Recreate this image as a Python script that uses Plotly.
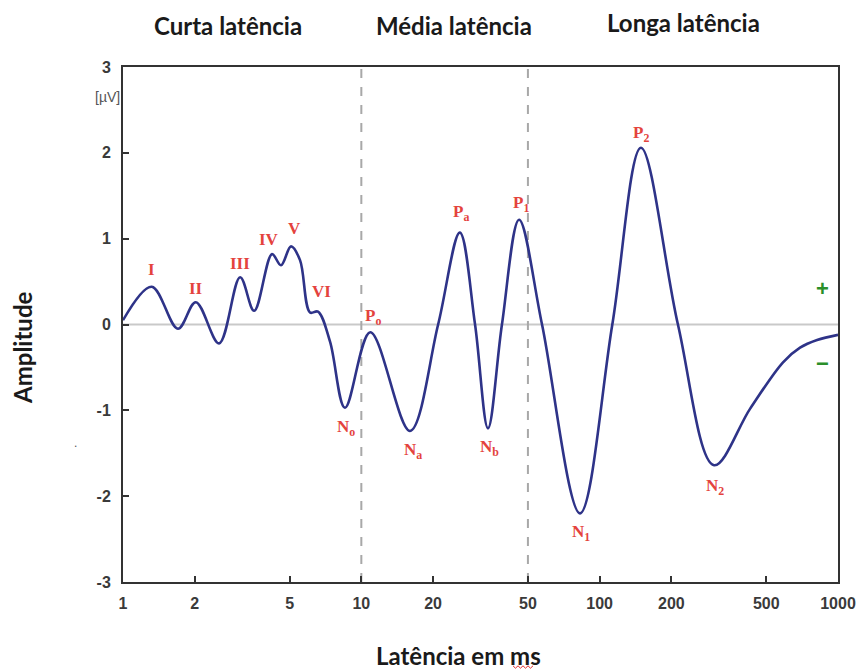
import numpy as np
import plotly.graph_objects as go

# Auditory evoked potential waveform: latency (ms) vs amplitude (µV)
latency_ms = [1.0, 1.32, 1.70, 2.02, 2.53, 3.10, 3.55, 4.22, 4.6, 5.07, 5.53, 6.09,
              6.58, 7.39, 8.54, 10.9, 16.0, 21.0, 25.9, 30.0, 34.0, 38.9, 45.9, 57.3,
              82.7, 113.0, 149.0, 213.0, 302.0, 428.0, 588.0, 693.0, 817.0, 1000.0]
amplitude_uv = [0.05, 0.44, -0.05, 0.26, -0.22, 0.55, 0.16, 0.82, 0.69, 0.91, 0.75, 0.14,
                0.15, -0.20, -0.97, -0.09, -1.24, 0.0, 1.07, 0.0, -1.21, 0.0, 1.22, 0.0,
                -2.20, 0.0, 2.06, 0.0, -1.64, -0.98, -0.44, -0.27, -0.18, -0.12]

# Named components: (label, latency, amplitude, xshift, yshift)
components = [
    ("I", 1.32, 0.44, 0, 17),
    ("II", 2.02, 0.26, 0, 14),
    ("III", 3.10, 0.55, 0, 14),
    ("IV", 4.22, 0.82, -3, 15),
    ("V", 5.07, 0.91, 3, 18),
    ("VI", 6.58, 0.15, 3, 20),
    ("P<sub>o</sub>", 10.9, -0.09, 3, 15),
    ("N<sub>o</sub>", 8.54, -0.97, 1, -20),
    ("N<sub>a</sub>", 16.0, -1.24, 3, -20),
    ("P<sub>a</sub>", 25.9, 1.07, 1, 20),
    ("N<sub>b</sub>", 34.0, -1.21, 1, -20),
    ("P<sub>1</sub>", 45.9, 1.22, 2, 16),
    ("N<sub>1</sub>", 82.7, -2.20, 1, -20),
    ("P<sub>2</sub>", 149.0, 2.06, 0, 14),
    ("N<sub>2</sub>", 302.0, -1.64, 1, -22),
]

section_titles = ["Curta latência", "Média latência", "Longa latência"]
section_bounds_ms = [10, 50]
x_ticks = [1, 2, 5, 10, 20, 50, 100, 200, 500, 1000]
y_ticks = [-3, -2, -1, 0, 1, 2, 3]
y_ticklabels = ["-3", "-2", "-1", "0", "1", "2", "3"]

W, H = 858, 672
L, R, T, B = 123, 20, 67, 90
plot_w, plot_h = W - L - R, H - T - B


def px_x(p):
    return (p - L) / plot_w


def px_y(p):
    return (H - B - p) / plot_h


fig = go.Figure()

fig.add_trace(go.Scatter(
    x=latency_ms, y=amplitude_uv, mode="lines",
    line=dict(color="#2e3388", width=2.6, shape="spline", smoothing=1.0),
    hoverinfo="skip", showlegend=False,
))

shapes = [
    # zero baseline
    dict(type="line", xref="paper", yref="y", x0=0, x1=1, y0=0, y1=0,
         line=dict(color="#c9c9c9", width=2), layer="below"),
]
# section boundaries
for b in section_bounds_ms:
    shapes.append(dict(type="line", xref="x", yref="paper", x0=b, x1=b,
                       y0=0, y1=1, line=dict(color="#a8a8a8", width=2, dash="dash"),
                       layer="below"))

# red wavy underline beneath "ms"
xs = np.arange(513, 534, 2.5)
pts = [(px_x(x), px_y(667 + (1.2 if i % 2 else -1.2))) for i, x in enumerate(xs)]
path = "M " + " L ".join(f"{a:.5f},{b:.5f}" for a, b in pts)
shapes.append(dict(type="path", path=path, xref="paper", yref="paper",
                   line=dict(color="#e03030", width=1)))

ann = []
for name, t, v, dx, dy in components:
    ann.append(dict(x=np.log10(t), y=v, xref="x", yref="y", text=name, showarrow=False,
                    xshift=dx, yshift=dy, xanchor="center", yanchor="middle",
                    font=dict(family="Liberation Serif", size=17, color="#e4433d", weight="bold")))

bold_font = dict(family="Lato", size=24, color="#1a1a1a", weight="bold")


def paper_text(x, y, text, font, **kw):
    return dict(x=px_x(x), y=px_y(y), xref="paper", yref="paper", text=text,
                showarrow=False, xanchor="center", yanchor="middle", font=font, **kw)


title_pos = [(228, 25), (454, 25), (683, 23)]
for txt, (x, y) in zip(section_titles, title_pos):
    ann.append(paper_text(x, y, txt, bold_font))

ann += [
    paper_text(22, 347, "Amplitude", bold_font, textangle=-90),
    paper_text(458, 655, "Latência em ms", bold_font),
    paper_text(107, 97, "[µV]", dict(family="Liberation Sans", size=14, color="#555555")),
    paper_text(822, 288, "+", dict(family="Liberation Sans", size=22, color="#2a8f2a", weight="bold")),
    paper_text(822, 363, "−", dict(family="Liberation Sans", size=22, color="#2a8f2a", weight="bold")),
    paper_text(75, 443, ".", dict(family="Liberation Sans", size=12, color="#555555")),
]

tick_font = dict(family="Liberation Sans", size=16, color="#3a3a3a", weight="bold")

fig.update_layout(
    width=W, height=H,
    margin=dict(l=L, r=R, t=T, b=B, pad=0, autoexpand=False),
    paper_bgcolor="white", plot_bgcolor="white",
    annotations=ann, shapes=shapes,
    xaxis=dict(type="log", range=[0, 3], tickvals=x_ticks, ticktext=[str(v) for v in x_ticks],
               showgrid=False, zeroline=False, showline=True, linecolor="#333333", linewidth=2,
               mirror=True, ticks="inside", ticklen=6, tickwidth=2, tickcolor="#333333",
               ticklabelstandoff=6, tickfont=tick_font, automargin=False),
    yaxis=dict(range=[-3, 3], tickvals=y_ticks, ticktext=y_ticklabels, showgrid=False,
               zeroline=False, showline=True, linecolor="#333333", linewidth=2, mirror=True,
               ticks="inside", ticklen=6, tickwidth=2, tickcolor="#333333",
               ticklabelstandoff=7, tickfont=tick_font, automargin=False),
)

fig.write_html("out.html")
